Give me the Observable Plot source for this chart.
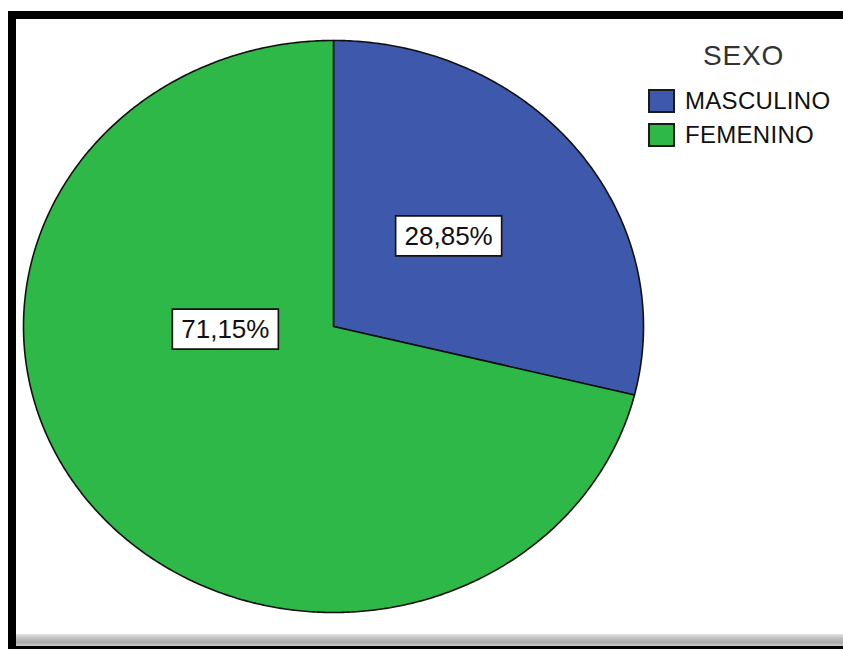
<!DOCTYPE html>
<html><head><meta charset="utf-8">
<script src="https://cdn.jsdelivr.net/npm/d3@7"></script>
<script src="https://cdn.jsdelivr.net/npm/@observablehq/plot@0.6"></script>
<style>
body{margin:0;background:#fff;font-family:"Liberation Sans",Arial,sans-serif;}
#wrap{position:relative;width:843px;height:649px;overflow:hidden;background:#fff;}
#chart{position:absolute;left:0;top:0;}
.bar{position:absolute;background:#000;}
#gray{position:absolute;left:16px;top:634px;width:827px;height:12px;background:linear-gradient(#e4e4e4,#bdbdbd 40%,#a9a9a9 70%,#c9c9c9);}
#legend{position:absolute;left:0;top:0;}
.ltitle{position:absolute;left:703px;top:40px;font-size:28px;color:#333;letter-spacing:0.8px;}
.row{position:absolute;left:648px;height:24px;display:flex;align-items:center;}
.sw{width:27px;height:24px;box-sizing:border-box;border:2px solid #1a1a1a;margin-right:10px;}
.lt{font-size:24px;color:#111;letter-spacing:0.3px;}
</style></head><body>
<div id="wrap">
  <div id="chart"></div>
  <div id="gray"></div>
  <div class="bar" style="left:8px;top:11px;width:835px;height:8px"></div>
  <div class="bar" style="left:8px;top:11px;width:8px;height:638px"></div>
  <div class="bar" style="left:16px;top:646px;width:827px;height:3px"></div>
  <div id="legend"></div>
</div>
<script>
const categories = ["MASCULINO", "FEMENINO"];
const percents = [28.85, 71.15];
const labels = ["28,85%", "71,15%"];
const colors = ["#3E58AC", "#2EB848"];
const legendTitle = "SEXO";

// slice geometry (angles clockwise from 12 o'clock), built from the data
const total = d3.sum(percents);
let acc = 0;
const slices = categories.map((c, i) => {
  const a0 = acc / total * 2 * Math.PI;
  acc += percents[i];
  const a1 = acc / total * 2 * Math.PI;
  return {category: c, a0, a1, label: labels[i]};
});
const outline = [];
for (const s of slices) {
  outline.push({category: s.category, x: 0, y: 0});
  const n = Math.max(2, Math.ceil((s.a1 - s.a0) / (Math.PI / 360)));
  for (let k = 0; k <= n; k++) {
    const a = s.a0 + (s.a1 - s.a0) * k / n;
    outline.push({category: s.category, x: Math.sin(a), y: Math.cos(a)});
  }
  outline.push({category: s.category, x: 0, y: 0});
}
const labelPts = slices.map(s => {
  const m = (s.a0 + s.a1) / 2;
  return {category: s.category, label: s.label, x: 0.48 * Math.sin(m), y: 0.48 * Math.cos(m)};
});
const boxSymbol = {draw(ctx) { ctx.rect(-53, -20, 106, 40); }};

function labelMarks(d, dx, dy) {
  return [
    Plot.dot([d], {x: "x", y: "y", symbol: boxSymbol, r: 10, fill: "white", stroke: "#111", strokeWidth: 1.6, dx, dy}),
    Plot.text([d], {x: "x", y: "y", text: "label", fontSize: 26, fill: "#111", dx, dy: dy + 1, fontFamily: "Liberation Sans, Arial, sans-serif"})
  ];
}

const chart = Plot.plot({
  width: 843,
  height: 649,
  marginLeft: 23,
  marginRight: 200,
  marginTop: 40,
  marginBottom: 37,
  x: {domain: [-1, 1], axis: null},
  y: {domain: [-1, 1], axis: null},
  color: {domain: categories, range: colors},
  style: {background: "transparent", overflow: "visible"},
  marks: [
    Plot.line(outline, {x: "x", y: "y", z: "category", fill: "category", stroke: "#111", strokeWidth: 1.6, curve: "linear", strokeLinejoin: "round"}),
    ...labelMarks(labelPts[0], -2, -6),
    ...labelMarks(labelPts[1], 9, -82)
  ]
});
document.getElementById("chart").appendChild(chart);

const lg = document.getElementById("legend");
const t = document.createElement("div");
t.className = "ltitle"; t.textContent = legendTitle; lg.appendChild(t);
categories.forEach((c, i) => {
  const r = document.createElement("div");
  r.className = "row"; r.style.top = (89 + i * 34) + "px";
  const sw = document.createElement("div"); sw.className = "sw"; sw.style.background = colors[i];
  const tx = document.createElement("span"); tx.className = "lt"; tx.textContent = c;
  r.appendChild(sw); r.appendChild(tx); lg.appendChild(r);
});
</script>
</body></html>
